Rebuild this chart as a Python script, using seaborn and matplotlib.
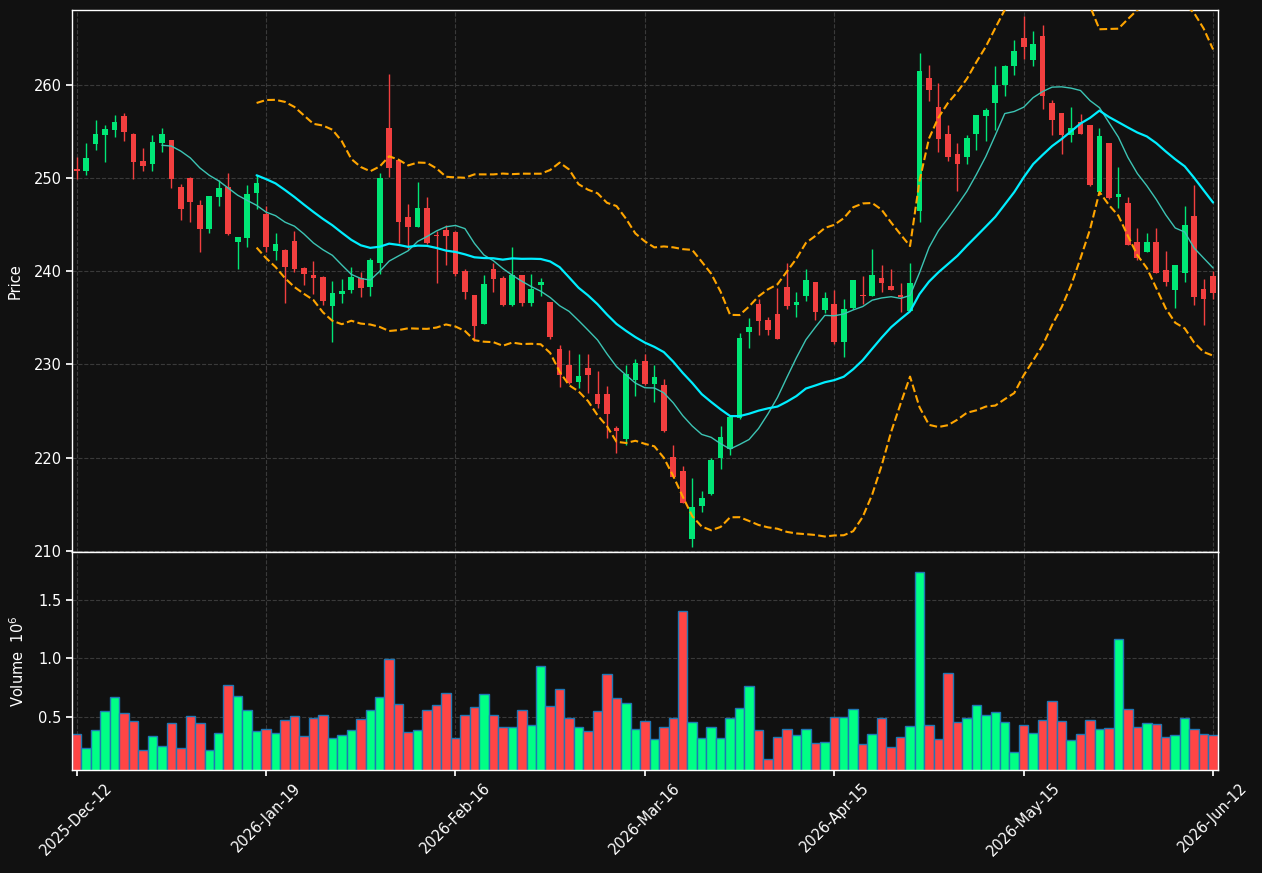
import numpy as np
import pandas as pd
import seaborn as sns
from matplotlib import pyplot as plt

# daily OHLC (121 sessions)
opens = [250.90, 250.72, 253.58, 254.54, 255.08, 256.58, 254.65, 251.76, 251.47, 253.72,
         254.01, 248.98, 249.94, 247.05, 244.51, 247.94, 248.98, 243.12, 243.52, 248.37,
         246.10, 242.12, 242.22, 243.19, 240.30, 239.55, 239.33, 236.26, 237.55, 237.98,
         239.30, 238.30, 240.87, 255.39, 251.86, 245.76, 244.72, 246.72, 243.83, 244.36,
         244.17, 239.98, 237.41, 234.34, 240.19, 239.23, 236.34, 239.55, 236.55, 238.48,
         236.66, 231.63, 229.92, 228.13, 229.59, 226.81, 226.81, 223.17, 221.99, 228.35,
         230.37, 227.88, 227.78, 220.07, 218.57, 211.29, 214.86, 216.11, 220.00, 220.96,
         224.28, 233.49, 236.45, 234.73, 235.38, 238.34, 236.38, 237.34, 238.80, 235.84,
         236.44, 232.41, 236.05, 237.41, 237.34, 239.23, 238.37, 237.44, 235.73, 246.44,
         260.75, 257.64, 254.65, 252.51, 252.22, 254.65, 256.61, 258.00, 259.93, 261.96,
         265.03, 262.61, 265.25, 258.07, 256.90, 254.58, 256.00, 255.61, 248.47, 253.68,
         247.94, 247.26, 243.08, 242.05, 243.08, 240.09, 237.98, 239.84, 245.87, 238.05,
         239.48]
highs = [252.26, 253.76, 256.15, 255.61, 256.68, 256.90, 254.76, 253.22, 254.61, 255.36,
         254.01, 249.37, 250.12, 247.65, 248.05, 249.76, 250.55, 243.65, 249.19, 250.30,
         247.02, 244.11, 242.40, 244.33, 240.47, 241.12, 239.47, 238.94, 239.19, 240.47,
         239.90, 241.44, 250.54, 261.10, 251.90, 247.22, 249.57, 247.97, 244.29, 244.90,
         244.30, 240.27, 237.45, 239.55, 240.91, 239.48, 242.62, 239.60, 239.73, 239.30,
         236.70, 232.06, 231.52, 231.09, 231.09, 229.34, 227.70, 223.35, 229.92, 230.56,
         231.09, 229.92, 228.42, 221.42, 219.10, 217.78, 216.39, 219.96, 223.39, 224.45,
         233.41, 234.95, 237.05, 235.13, 238.23, 240.91, 237.77, 240.27, 238.85, 237.80,
         237.98, 237.05, 239.05, 239.48, 242.41, 240.66, 240.26, 238.77, 240.91, 263.39,
         262.14, 260.21, 255.61, 253.75, 254.61, 256.70, 257.50, 262.03, 262.05, 264.82,
         267.39, 265.71, 266.42, 258.39, 256.95, 257.61, 256.82, 255.65, 255.36, 253.72,
         251.18, 247.97, 244.65, 244.05, 244.65, 242.19, 240.65, 246.97, 249.22, 239.19,
         240.01]
lows = [249.83, 250.30, 252.97, 251.69, 254.40, 253.97, 249.90, 250.76, 250.76, 252.79,
        248.94, 245.51, 245.26, 242.05, 244.12, 246.98, 243.90, 240.27, 242.62, 246.62,
        242.10, 241.19, 236.62, 239.90, 238.51, 237.58, 236.33, 232.44, 236.62, 237.62,
        237.26, 237.33, 239.72, 250.11, 243.04, 242.33, 244.70, 242.90, 238.76, 240.65,
        239.50, 237.05, 232.52, 234.30, 237.77, 236.23, 236.30, 236.27, 236.27, 237.34,
        232.70, 227.60, 227.95, 227.52, 226.99, 225.38, 222.17, 220.46, 221.39, 226.63,
        227.85, 225.99, 222.71, 217.90, 215.10, 210.40, 214.14, 216.05, 218.78, 220.28,
        224.20, 231.81, 233.20, 233.17, 232.70, 235.91, 235.13, 236.81, 234.73, 235.56,
        232.17, 230.84, 235.98, 236.45, 237.30, 237.77, 237.95, 235.62, 235.70, 245.30,
        258.22, 252.79, 251.79, 248.58, 251.47, 252.93, 253.93, 255.11, 258.75, 261.03,
        262.78, 261.96, 257.39, 254.58, 252.58, 253.86, 254.70, 249.15, 248.22, 247.75,
        246.79, 242.75, 241.19, 242.00, 239.80, 238.41, 236.09, 238.84, 236.41, 234.27,
        236.98]
closes = [250.75, 252.08, 254.65, 255.19, 255.93, 254.90, 251.69, 251.26, 253.79, 254.65,
          249.87, 246.66, 247.41, 244.51, 248.01, 248.87, 243.98, 243.62, 248.23, 249.40,
          242.56, 242.86, 240.44, 240.19, 239.65, 239.26, 236.76, 237.62, 237.83, 239.33,
          238.19, 241.15, 249.93, 251.04, 245.26, 244.72, 246.72, 242.97, 243.78, 243.76,
          239.65, 237.73, 234.13, 238.59, 239.12, 236.34, 239.55, 236.55, 238.05, 238.80,
          232.91, 228.88, 228.06, 228.74, 228.88, 225.81, 224.67, 222.89, 229.02, 230.17,
          227.90, 228.63, 222.89, 217.96, 215.18, 214.71, 215.68, 219.75, 222.21, 224.39,
          232.81, 233.99, 234.66, 233.70, 232.74, 236.27, 236.66, 239.02, 235.63, 237.09,
          232.41, 235.91, 239.01, 237.30, 239.55, 238.69, 237.98, 237.23, 238.77, 261.43,
          259.39, 254.11, 252.22, 251.47, 254.22, 256.68, 257.32, 260.00, 262.03, 263.64,
          264.00, 264.39, 258.75, 256.18, 254.54, 255.29, 254.75, 249.22, 254.43, 247.79,
          248.22, 242.80, 241.41, 243.08, 239.84, 238.84, 240.62, 244.90, 237.27, 237.02,
          237.66]
# volume in millions
volumes = [0.353, 0.229, 0.387, 0.551, 0.672, 0.534, 0.465, 0.215, 0.336, 0.247,
           0.448, 0.229, 0.508, 0.448, 0.215, 0.362, 0.775, 0.681, 0.560, 0.379,
           0.396, 0.362, 0.474, 0.508, 0.336, 0.491, 0.517, 0.318, 0.344, 0.387,
           0.482, 0.560, 0.672, 0.991, 0.612, 0.370, 0.387, 0.560, 0.603, 0.706,
           0.318, 0.517, 0.586, 0.698, 0.517, 0.413, 0.413, 0.560, 0.431, 0.931,
           0.594, 0.741, 0.491, 0.413, 0.379, 0.551, 0.870, 0.663, 0.620, 0.396,
           0.465, 0.310, 0.413, 0.491, 1.405, 0.456, 0.318, 0.413, 0.318, 0.491,
           0.577, 0.767, 0.387, 0.137, 0.327, 0.396, 0.344, 0.396, 0.275, 0.284,
           0.500, 0.500, 0.568, 0.267, 0.353, 0.491, 0.241, 0.327, 0.422, 1.741,
           0.431, 0.310, 0.879, 0.456, 0.491, 0.603, 0.517, 0.543, 0.456, 0.198,
           0.431, 0.362, 0.474, 0.637, 0.465, 0.301, 0.353, 0.474, 0.396, 0.405,
           1.163, 0.568, 0.413, 0.448, 0.439, 0.327, 0.344, 0.491, 0.396, 0.353,
           0.344]

tick_pos = [0, 20, 40, 60, 80, 100, 120]
tick_labels = ['2025-Dec-12', '2026-Jan-19', '2026-Feb-16', '2026-Mar-16',
               '2026-Apr-15', '2026-May-15', '2026-Jun-12']

df = pd.DataFrame({'open': opens, 'high': highs, 'low': lows,
                   'close': closes, 'volume': volumes})
df['idx'] = np.arange(len(df))
df['ma10'] = df['close'].rolling(10).mean()
df['ma20'] = df['close'].rolling(20).mean()
sd = df['close'].rolling(20).std()
df['upper'] = df['ma20'] + 2 * sd
df['lower'] = df['ma20'] - 2 * sd

bg = '#111111'
sns.set_theme(style='darkgrid', rc={
    'figure.facecolor': bg, 'axes.facecolor': bg, 'axes.edgecolor': 'white',
    'axes.linewidth': 1.0, 'grid.color': '#3a3a3a', 'grid.linestyle': '--',
    'grid.linewidth': 0.8, 'text.color': 'white', 'axes.labelcolor': 'white',
    'xtick.color': 'white', 'ytick.color': 'white',
    'xtick.bottom': True, 'ytick.left': True,
    'xtick.major.size': 4, 'ytick.major.size': 4,
    'xtick.labelsize': 10.5, 'ytick.labelsize': 10.5, 'axes.labelsize': 10.5,
})
plt.rcParams['font.family'] = ['DejaVu Sans']

up_c, dn_c = '#00e676', '#f23f3f'
vup_c, vdn_c = '#00ff85', '#ff4545'

fig = plt.figure(figsize=(12.62, 8.73), dpi=100)
ax_p = fig.add_axes([0.057, 0.3677, 0.908, 0.621])
ax_v = fig.add_axes([0.057, 0.118, 0.908, 0.2497], sharex=ax_p)

up = df['close'] >= df['open']
ccol = np.where(up, up_c, dn_c)
vcol = np.where(up, vup_c, vdn_c)

# candles
ax_p.vlines(df['idx'], df['low'], df['high'], colors=ccol, linewidth=1, zorder=2)
body_lo = np.minimum(df['open'], df['close'])
body_h = np.maximum((df['close'] - df['open']).abs(), 0.12)
ax_p.bar(df['idx'], body_h, bottom=body_lo, width=0.6, color=ccol, linewidth=0, zorder=3)

# moving averages and bands
sns.lineplot(data=df, x='idx', y='ma10', ax=ax_p, color='#3cc4b4', linewidth=1.0, zorder=4)
sns.lineplot(data=df, x='idx', y='ma20', ax=ax_p, color='#00eeff', linewidth=1.6, zorder=4)
sns.lineplot(data=df, x='idx', y='upper', ax=ax_p, color='orange', linewidth=1.5,
             linestyle='--', zorder=4)
sns.lineplot(data=df, x='idx', y='lower', ax=ax_p, color='orange', linewidth=1.5,
             linestyle='--', zorder=4)

ax_p.set_ylim(209.9, 268.0)
ax_p.set_xlim(-0.5, 120.5)
ax_p.set_ylabel('Price', labelpad=8)
ax_p.set_xlabel('')
ax_p.tick_params(axis='x', labelbottom=False, length=0)

# volume
ax_v.bar(df['idx'], df['volume'], width=1.0, color=vcol, edgecolor='#1f77b4', linewidth=1)
ax_v.set_ylim(0.3 * min(volumes), 1.1 * max(volumes))
ax_v.set_yticks([0.5, 1.0, 1.5])
ax_v.set_ylabel('Volume  $10^6$', labelpad=8)
ax_v.set_xticks(tick_pos)
ax_v.set_xticklabels(tick_labels, rotation=45)
ax_v.set_xlabel('')

for a in (ax_p, ax_v):
    for s in a.spines.values():
        s.set_visible(True)
        s.set_color('white')

fig.savefig('out.png', dpi=100, facecolor=bg)
